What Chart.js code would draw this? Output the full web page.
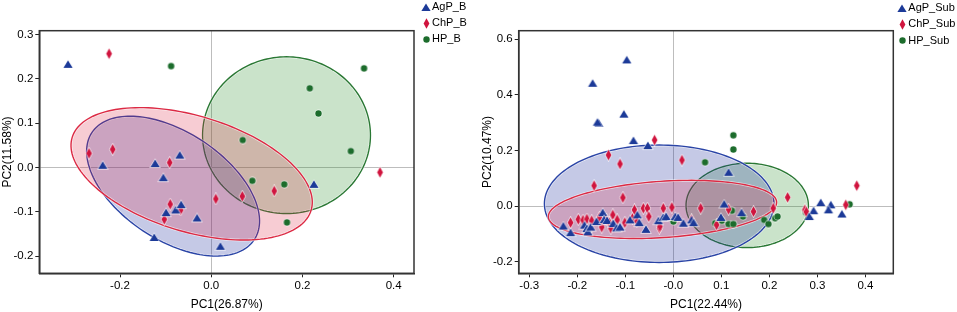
<!DOCTYPE html>
<html>
<head>
<meta charset="utf-8">
<script src="https://cdn.jsdelivr.net/npm/chart.js@4.4.1/dist/chart.umd.min.js"></script>
<style>
  body { margin: 0; background: #fff; }
  .panel { position: absolute; top: 0; }
</style>
</head>
<body>
<div class="panel" style="left:0"><canvas id="pcaB" width="480" height="312"></canvas></div>
<div class="panel" style="left:480px"><canvas id="pcaSub" width="477" height="312"></canvas></div>
<script>
const FONT = '"Liberation Sans", Arial, Helvetica, sans-serif'

// PC scores, [PC1, PC2]
const agpB = [[-0.314, 0.233], [-0.238, 0.005], [-0.123, 0.009], [-0.069, 0.028], [-0.105, -0.023],
  [-0.099, -0.102], [-0.078, -0.096], [-0.066, -0.084], [-0.031, -0.114], [-0.125, -0.158],
  [0.020, -0.178], [0.225, -0.038]]
const chpB = [[-0.224, 0.257], [-0.268, 0.032], [-0.216, 0.041], [-0.091, 0.011], [-0.090, -0.083],
  [-0.067, -0.096], [-0.103, -0.117], [0.010, -0.071], [0.068, -0.065], [0.138, -0.053], [0.370, -0.011]]
const hpB = [[-0.088, 0.229], [0.335, 0.224], [0.216, 0.179], [0.235, 0.122], [0.306, 0.037],
  [0.069, 0.062], [0.090, -0.030], [0.160, -0.038], [0.166, -0.124]]

const agpSub = [[-0.097, 0.526], [-0.168, 0.442], [-0.103, 0.331], [-0.155, 0.298], [-0.158, 0.302],
  [-0.083, 0.236], [-0.053, 0.218], [0.115, 0.122], [0.106, 0.008], [0.099, -0.040], [0.142, -0.023],
  [0.307, 0.013], [0.328, 0.005], [0.292, -0.016], [0.323, -0.013], [0.351, -0.028], [0.283, -0.037],
  [-0.229, -0.071], [-0.214, -0.095], [-0.185, -0.068], [-0.180, -0.080], [-0.178, -0.092],
  [-0.172, -0.075], [-0.160, -0.055], [-0.147, -0.023], [-0.144, -0.048], [-0.138, -0.051],
  [-0.125, -0.062], [-0.118, -0.078], [-0.111, -0.075], [-0.090, -0.049], [-0.075, -0.031],
  [-0.071, -0.059], [-0.057, -0.083], [-0.031, -0.052], [-0.021, -0.040], [-0.015, -0.037],
  [0.004, -0.037], [0.010, -0.040], [0.021, -0.061], [0.038, -0.049], [0.042, -0.059]]
const chpSub = [[-0.039, 0.238], [-0.135, 0.184], [-0.111, 0.152], [0.018, 0.166], [-0.165, 0.074],
  [-0.105, 0.031], [0.238, 0.032], [0.382, 0.074], [0.359, 0.005], [0.274, -0.013], [0.277, -0.020],
  [0.208, -0.007], [0.167, -0.019], [0.115, -0.011], [0.057, -0.007], [0.090, -0.067],
  [-0.214, -0.059], [-0.198, -0.047], [-0.188, -0.050], [-0.180, -0.046], [-0.170, -0.052],
  [-0.154, -0.040], [-0.149, -0.075], [-0.139, -0.049], [-0.133, -0.060], [-0.130, -0.079],
  [-0.126, -0.031], [-0.117, -0.049], [-0.101, -0.059], [-0.085, -0.043], [-0.081, -0.013],
  [-0.076, -0.055], [-0.0625, -0.007], [-0.054, -0.007], [-0.051, -0.037], [-0.029, -0.079],
  [-0.028, -0.073], [-0.021, -0.007], [-0.003, -0.004], [0.038, -0.049]]
const hpSub = [[0.125, 0.255], [0.125, 0.204], [0.066, 0.158], [0.000, -0.055], [0.087, -0.061],
  [0.101, -0.052], [0.115, -0.064], [0.125, -0.064], [0.122, -0.016], [0.145, -0.037],
  [0.189, -0.049], [0.198, -0.064], [0.212, -0.043], [0.217, -0.037], [0.276, -0.023], [0.367, 0.007]]

// confidence ellipses: centre + two conjugate half axes (data units)
const ellipsesB = [
  { group: 'HP', c: [0.165, 0.073], u: [0.184, 0], v: [0, 0.177] },
  { group: 'AgP', c: [-0.0837, -0.0421], u: [0.178, -0.121], v: [-0.0651, -0.1016] },
  { group: 'ChP', c: [-0.043, -0.0143], u: [0.2619, -0.0824], v: [-0.0371, -0.1248] },
]
const ellipsesSub = [
  { group: 'HP', c: [0.1538, 0.003], u: [0.1274, 0], v: [0, 0.1515] },
  { group: 'AgP', c: [-0.0295, 0.009], u: [0.239, 0], v: [0, 0.211] },
  { group: 'ChP', c: [-0.0226, -0.0114], u: [0.2377, 0.0273], v: [0.0039, -0.101] },
]

const leftXTicks = [-0.2, 0, 0.2, 0.4]
const leftXLabels = ['-0.2', '0.0', '0.2', '0.4']
const leftYTicks = [-0.2, -0.1, 0, 0.1, 0.2, 0.3]
const leftYLabels = ['-0.2', '-0.1', '0.0', '0.1', '0.2', '0.3']
const rightXTicks = [-0.3, -0.2, -0.1, 0, 0.1, 0.2, 0.3, 0.4]
const rightXLabels = ['-0.3', '-0.2', '-0.1', '-0.0', '0.1', '0.2', '0.3', '0.4']
const rightYTicks = [-0.2, 0, 0.2, 0.4, 0.6]
const rightYLabels = ['-0.2', '0.0', '0.2', '0.4', '0.6']

const groupStyle = {
  AgP: { mark: '#1c3a98', fill: 'rgba(32,48,160,0.26)', line: '#2a44a6' },
  ChP: { mark: '#d0143e', fill: 'rgba(222,34,64,0.23)', line: '#dc2a44' },
  HP: { mark: '#1c6c2c', fill: 'rgba(44,144,44,0.25)', line: '#2a7834' },
}

function marker(kind, color) {
  const c = document.createElement('canvas')
  c.width = kind === 'triangle' ? 12 : 9
  c.height = kind === 'diamond' ? 13 : (kind === 'triangle' ? 11 : 9)
  const g = c.getContext('2d')
  const w = c.width, h = c.height
  g.beginPath()
  if (kind === 'triangle') {
    g.moveTo(w / 2, h / 2 - 4)
    g.lineTo(w / 2 + 4.6, h / 2 + 3.6)
    g.lineTo(w / 2 - 4.6, h / 2 + 3.6)
  } else if (kind === 'diamond') {
    g.moveTo(w / 2, h / 2 - 5.3)
    g.lineTo(w / 2 + 2.9, h / 2)
    g.lineTo(w / 2, h / 2 + 5.3)
    g.lineTo(w / 2 - 2.9, h / 2)
  } else {
    g.arc(w / 2, h / 2, 3.2, 0, Math.PI * 2)
  }
  g.closePath()
  g.strokeStyle = 'rgba(255,255,255,0.75)'
  g.lineWidth = 1.4
  g.stroke()
  g.fillStyle = color
  g.fill()
  return c
}

const markers = {
  AgP: marker('triangle', groupStyle.AgP.mark),
  ChP: marker('diamond', groupStyle.ChP.mark),
  HP: marker('circle', groupStyle.HP.mark),
}

function ellipsePlugin(list) {
  return {
    id: 'ellipses',
    beforeDatasetsDraw(chart) {
      const { ctx, chartArea: a, scales } = chart
      ctx.save()
      ctx.beginPath()
      ctx.rect(a.left, a.top, a.width, a.height)
      ctx.clip()
      list.forEach(e => {
        const st = groupStyle[e.group]
        ctx.beginPath()
        for (let i = 0; i <= 160; i++) {
          const t = i / 160 * Math.PI * 2
          const px = scales.x.getPixelForValue(e.c[0] + e.u[0] * Math.cos(t) + e.v[0] * Math.sin(t))
          const py = scales.y.getPixelForValue(e.c[1] + e.u[1] * Math.cos(t) + e.v[1] * Math.sin(t))
          if (i) ctx.lineTo(px, py); else ctx.moveTo(px, py)
        }
        ctx.closePath()
        ctx.fillStyle = st.fill
        ctx.fill()
        ctx.strokeStyle = 'rgba(255,255,255,0.6)'
        ctx.lineWidth = 2.8
        ctx.stroke()
        ctx.strokeStyle = st.line
        ctx.lineWidth = 1.4
        ctx.stroke()
      })
      ctx.restore()
    }
  }
}

// box round the plot + legend to the upper right
function framePlugin(dx, y0, dy) {
  return {
    id: 'frame',
    afterDraw(chart) {
      const { ctx, chartArea: a } = chart
      ctx.save()
      ctx.strokeStyle = '#333'
      ctx.lineWidth = 1.5
      ctx.strokeRect(a.left, a.top, a.width, a.height)
      ctx.font = '11px ' + FONT
      ctx.fillStyle = '#000'
      ctx.textBaseline = 'middle'
      chart.data.datasets.forEach((ds, i) => {
        const x = a.right + dx, y = y0 + i * dy
        const img = ds.pointStyle
        ctx.drawImage(img, Math.round(x - img.width / 2), Math.round(y - img.height / 2))
        ctx.fillText(ds.label, x + 6, y)
      })
      ctx.restore()
    }
  }
}

function axis(min, max, ticks, labels, title, size, horizontal) {
  return {
    type: 'linear',
    min: min,
    max: max,
    afterBuildTicks: s => { s.ticks = ticks.map(v => ({ value: v })) },
    afterFit: s => { if (horizontal) s.height = size; else s.width = size },
    ticks: {
      callback: (v, i) => labels[i],
      color: '#000',
      font: { size: 11.5, family: FONT },
      padding: 2,
      autoSkip: false,
      maxRotation: 0,
    },
    grid: {
      color: c => (c.tick && c.tick.value === 0) ? '#bdbdbd' : 'rgba(0,0,0,0)',
      tickColor: '#222',
      tickLength: 4,
      lineWidth: 1,
    },
    border: { display: true, color: '#2b2b2b', width: 1.5 },
    title: { display: true, text: title, color: '#000', font: { size: 12, family: FONT }, padding: 0 },
  }
}

function dataset(label, group, pts) {
  return {
    label: label,
    data: pts.map(p => ({ x: p[0], y: p[1] })),
    pointStyle: markers[group],
    pointRadius: 4,
    showLine: false,
  }
}

function makeChart(id, cfg) {
  return new Chart(document.getElementById(id), {
    type: 'scatter',
    data: { datasets: cfg.datasets },
    options: {
      responsive: false,
      animation: false,
      events: [],
      layout: { padding: { top: 30.7, right: cfg.padRight, left: 0, bottom: 0 } },
      plugins: { legend: { display: false }, tooltip: { enabled: false } },
      scales: { x: cfg.x, y: cfg.y },
    },
    plugins: [ellipsePlugin(cfg.ellipses), framePlugin(cfg.legendDx, cfg.legendY0, cfg.legendDy)],
  })
}

makeChart('pcaB', {
  datasets: [dataset('AgP_B', 'AgP', agpB), dataset('ChP_B', 'ChP', chpB), dataset('HP_B', 'HP', hpB)],
  ellipses: ellipsesB,
  x: axis(-0.377, 0.4445, leftXTicks, leftXLabels, 'PC1(26.87%)', 38.7, true),
  y: axis(-0.239, 0.309, leftYTicks, leftYLabels, 'PC2(11.58%)', 39.3, false),
  padRight: 66,
  legendDx: 12, legendY0: 7, legendDy: 16,
})

makeChart('pcaSub', {
  datasets: [dataset('AgP_Sub', 'AgP', agpSub), dataset('ChP_Sub', 'ChP', chpSub), dataset('HP_Sub', 'HP', hpSub)],
  ellipses: ellipsesSub,
  x: axis(-0.322, 0.458, rightXTicks, rightXLabels, 'PC1(22.44%)', 38.7, true),
  y: axis(-0.241, 0.631, rightYTicks, rightYLabels, 'PC2(10.47%)', 38.7, false),
  padRight: 63.7,
  legendDx: 9, legendY0: 8, legendDy: 16.3,
})
</script>
</body>
</html>
